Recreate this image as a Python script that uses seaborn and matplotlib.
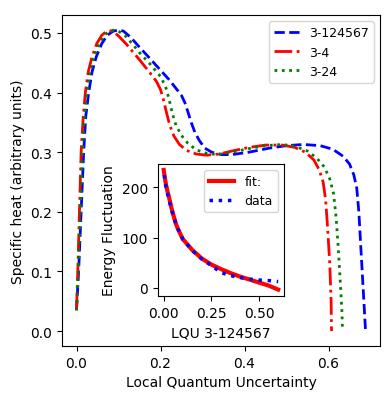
import matplotlib
matplotlib.use("Agg")
import matplotlib.pyplot as plt
import seaborn as sns

# ---- main curves (parametric: x = LQU, y = specific heat) ----
blue_x = [0.0, 0.005, 0.011, 0.017, 0.022, 0.029, 0.037, 0.047, 0.06, 0.073, 0.087, 0.1,
          0.112, 0.13, 0.15, 0.175, 0.198, 0.22, 0.238, 0.25, 0.258, 0.265, 0.273, 0.282,
          0.292, 0.305, 0.322, 0.345, 0.37, 0.41, 0.46, 0.5, 0.54, 0.58, 0.61, 0.635, 0.65,
          0.66, 0.667, 0.672, 0.676, 0.68, 0.684, 0.688]
blue_y = [0.035, 0.1, 0.2, 0.3, 0.36, 0.4, 0.435, 0.46, 0.482, 0.496, 0.503, 0.505,
          0.503, 0.492, 0.476, 0.457, 0.439, 0.422, 0.406, 0.395, 0.383, 0.368, 0.35, 0.333,
          0.32, 0.307, 0.3, 0.296, 0.296, 0.3, 0.307, 0.311, 0.313, 0.311, 0.305, 0.293, 0.28,
          0.262, 0.24, 0.2, 0.15, 0.1, 0.05, 0.0]

red_x = [0.0, 0.003, 0.007, 0.011, 0.016, 0.021, 0.028, 0.037, 0.048, 0.06, 0.07, 0.078,
         0.088, 0.1, 0.119, 0.15, 0.175, 0.19, 0.2, 0.207, 0.214, 0.222, 0.232, 0.245, 0.262,
         0.285, 0.31, 0.34, 0.37, 0.41, 0.45, 0.49, 0.52, 0.545, 0.565, 0.578, 0.587, 0.593,
         0.598, 0.603, 0.606, 0.607]
red_y = [0.035, 0.1, 0.2, 0.3, 0.36, 0.4, 0.435, 0.46, 0.482, 0.496, 0.502, 0.504,
         0.502, 0.495, 0.481, 0.455, 0.433, 0.419, 0.405, 0.388, 0.367, 0.345, 0.327, 0.313,
         0.303, 0.297, 0.295, 0.297, 0.302, 0.308, 0.312, 0.312, 0.308, 0.3, 0.287, 0.27,
         0.25, 0.22, 0.17, 0.11, 0.05, 0.0]

green_x = [0.0, 0.004, 0.009, 0.014, 0.019, 0.025, 0.032, 0.042, 0.054, 0.066, 0.078, 0.09,
           0.1, 0.115, 0.135, 0.15, 0.175, 0.2, 0.212, 0.22, 0.228, 0.237, 0.25, 0.265,
           0.285, 0.31, 0.335, 0.37, 0.41, 0.45, 0.49, 0.52, 0.55, 0.572, 0.59, 0.603, 0.612,
           0.618, 0.623, 0.628, 0.632, 0.633]
green_y = [0.035, 0.1, 0.2, 0.3, 0.36, 0.4, 0.435, 0.46, 0.482, 0.496, 0.503, 0.505,
           0.503, 0.496, 0.48, 0.467, 0.448, 0.427, 0.41, 0.39, 0.365, 0.345, 0.328, 0.315,
           0.304, 0.298, 0.296, 0.3, 0.306, 0.311, 0.313, 0.31, 0.302, 0.29, 0.275, 0.255,
           0.23, 0.19, 0.14, 0.08, 0.03, 0.0]

series_labels = ["3-124567", "3-4", "3-24"]

# ---- inset ----
fit_x = [0.0, 0.01, 0.02, 0.03, 0.04, 0.05, 0.0625, 0.075, 0.1, 0.15, 0.2, 0.25, 0.3, 0.35,
         0.4, 0.45, 0.5, 0.55, 0.6]
fit_y = [235, 210, 192, 177, 160, 146, 129, 117, 97, 75, 58, 46, 37, 29, 22, 16, 10, 4, -4]

data_x = [0.003, 0.01, 0.02, 0.03, 0.05, 0.075, 0.1, 0.15, 0.2, 0.25, 0.3, 0.35, 0.4, 0.45,
          0.5, 0.55, 0.6]
data_y = [225, 205, 188, 172, 143, 117, 97, 74, 57, 44, 30, 24, 20, 17, 15, 14, 12]

plt.rcParams.update({
    "font.family": ["DejaVu Sans"],
    "font.size": 10,
    "legend.fontsize": 9,
})

fig = plt.figure(figsize=(3.91, 4.02), dpi=100)
ax = fig.add_axes([0.1586, 0.1368, 0.8134, 0.8232])

lw = 2.0
sns.lineplot(x=blue_x, y=blue_y, sort=False, estimator=None, ax=ax, color="blue",
             linestyle="--", linewidth=lw, label=series_labels[0])
sns.lineplot(x=red_x, y=red_y, sort=False, estimator=None, ax=ax, color="red",
             linestyle="-.", linewidth=lw, label=series_labels[1])
sns.lineplot(x=green_x, y=green_y, sort=False, estimator=None, ax=ax, color="green",
             linestyle=":", linewidth=lw, label=series_labels[2])

ax.set_xlim(-0.0345, 0.7225)
ax.set_ylim(-0.025, 0.53)
ax.set_xticks([0.0, 0.2, 0.4, 0.6])
ax.set_yticks([0.0, 0.1, 0.2, 0.3, 0.4, 0.5])
ax.set_xlabel("Local Quantum Uncertainty")
ax.set_ylabel("Specific heat (arbitrary units)")
ax.legend(loc="upper right")

ins = fig.add_axes([0.404, 0.261, 0.322, 0.3286])
sns.lineplot(x=fit_x, y=fit_y, sort=False, estimator=None, ax=ins, color="red",
             linestyle="-", linewidth=3, label="fit:")
sns.lineplot(x=data_x, y=data_y, sort=False, estimator=None, ax=ins, color="blue",
             linestyle=":", linewidth=2.5, label="data")
ins.set_xlim(-0.03, 0.63)
ins.set_ylim(-17, 247)
ins.set_xticks([0.0, 0.25, 0.5])
ins.set_yticks([0, 100, 200])
ins.set_xlabel("LQU 3-124567")
ins.set_ylabel("Energy Fluctuation")
ins.legend(loc="upper right")

fig.savefig("out.png", dpi=100)
